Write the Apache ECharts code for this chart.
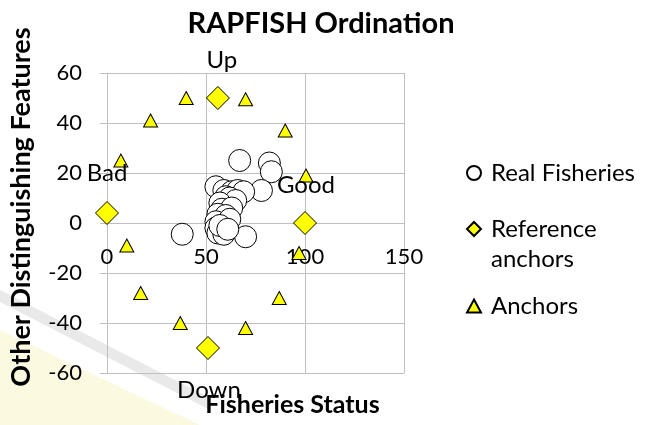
<!DOCTYPE html>
<html>
<head>
<meta charset="utf-8">
<script src="https://cdn.jsdelivr.net/npm/echarts@6/dist/echarts.min.js"></script>
<style>
  html, body { margin: 0; padding: 0; background: #ffffff; }
  #chart { width: 654px; height: 425px; }
</style>
</head>
<body>
<div id="chart"></div>
<script>
// ---- Data ----
const chartTitle = 'RAPFISH Ordination';
const xAxisName = 'Fisheries Status';
const yAxisName = 'Other Distinguishing Features';
const xTicks = [0, 50, 100, 150];
const yTicks = [-60, -40, -20, 0, 20, 40, 60];

const realFisheriesX = [67, 82, 83, 78, 55, 59, 63, 66, 69, 60, 62, 65, 57, 58, 63, 56, 60, 55, 62, 55, 56, 59, 70, 38, 57, 61];
const realFisheriesY = [25, 24, 20.5, 13, 14.5, 13, 12.5, 13, 12.5, 10.5, 10, 9, 8, 5.5, 6, 3.5, 3, 0.5, 1.5, -2, -4, -4.5, -5.5, -4.5, -1, -2.5];

const refAnchorNames = ['Up', 'Bad', 'Good', 'Down'];
const refAnchorsX = [56, 0, 100, 51];
const refAnchorsY = [50, 4, 0, -50];

const anchorsX = [40, 70, 22, 90, 7, 100.5, 10, 97, 17, 87, 37, 70];
const anchorsY = [50, 49.5, 41, 37, 25, 19, -9, -12, -28, -30, -40, -42];

const seriesNames = ['Real Fisheries', 'Reference anchors', 'Anchors'];

// ---- Styles ----
const FONT = 'Lato, "Open Sans", sans-serif';
const GRID_COLOR = '#BFBFBF';
const GRID_H = 300;
const labelOffsets = { Up: [4, -38], Bad: [0, -40], Good: [1, -38], Down: [1, 42] };

const zip = (xs, ys) => xs.map((x, i) => [x, ys[i]]);

const chart = echarts.init(document.getElementById('chart'), null, { renderer: 'canvas' });

const option = {
  animation: false,
  backgroundColor: '#ffffff',
  textStyle: { fontFamily: FONT },
  graphic: [
    { type: 'polygon', z: -10, silent: true,
      shape: { points: [[0, 330], [0, 425], [200, 425]] },
      style: { fill: 'rgba(250, 244, 200, 0.55)' } },
    { type: 'polygon', z: -9, silent: true,
      shape: { points: [[0, 290], [210, 398], [210, 410], [0, 302]] },
      style: { fill: 'rgba(200, 200, 200, 0.4)' } }
  ],
  title: {
    text: chartTitle,
    left: 316, top: 4, textAlign: 'center',
    textStyle: { fontFamily: FONT, fontSize: 29, fontWeight: 'bold', color: '#000' }
  },
  grid: { left: 107, top: 73, width: 297, height: GRID_H, containLabel: false, outerBoundsMode: 'none' },
  xAxis: {
    type: 'value', min: xTicks[0], max: xTicks[xTicks.length - 1], interval: xTicks[1] - xTicks[0],
    // horizontal axis crosses the vertical axis at y = 0 (middle of the symmetric range)
    offset: -GRID_H / 2,
    name: xAxisName, nameLocation: 'middle', nameGap: 169, nameMoveOverlap: false,
    nameTextStyle: { fontFamily: FONT, fontSize: 25, fontWeight: 'bold', color: '#000', padding: [0, 0, 0, 74] },
    axisLine: { onZero: false, lineStyle: { color: GRID_COLOR, width: 1 } },
    axisTick: { show: true, length: 5, lineStyle: { color: GRID_COLOR } },
    axisLabel: { fontFamily: FONT, fontSize: 22, color: '#000', margin: 23 },
    splitLine: { show: true, lineStyle: { color: GRID_COLOR, width: 1 } }
  },
  yAxis: {
    type: 'value', min: yTicks[0], max: yTicks[yTicks.length - 1], interval: yTicks[1] - yTicks[0],
    name: yAxisName, nameLocation: 'middle', nameGap: 72, nameRotate: 90, nameMoveOverlap: false,
    nameTextStyle: { fontFamily: FONT, fontSize: 27, fontWeight: 'bold', color: '#000', padding: [0, 0, 0, 32] },
    axisLine: { show: true, onZero: false, lineStyle: { color: GRID_COLOR, width: 1 } },
    axisTick: { show: true, length: 7, lineStyle: { color: GRID_COLOR } },
    axisLabel: { fontFamily: FONT, fontSize: 22, color: '#000', margin: 25 },
    splitLine: { show: true, lineStyle: { color: GRID_COLOR, width: 1 } }
  },
  legend: [
    { data: [seriesNames[0]], orient: 'vertical', left: 466, top: 161, padding: 0,
      itemWidth: 14, itemHeight: 14,
      textStyle: { fontFamily: FONT, fontSize: 24, color: '#000', lineHeight: 24, padding: [0, 0, 0, 5] } },
    { data: [seriesNames[1]], orient: 'vertical', left: 466, top: 184, padding: 0,
      itemWidth: 14, itemHeight: 14,
      formatter: () => ' \nReference\nanchors',
      textStyle: { fontFamily: FONT, fontSize: 24, color: '#000', lineHeight: 30, padding: [0, 0, 0, 5] } },
    { data: [seriesNames[2]], orient: 'vertical', left: 466, top: 294, padding: 0,
      itemWidth: 14, itemHeight: 13,
      textStyle: { fontFamily: FONT, fontSize: 24, color: '#000', lineHeight: 24, padding: [0, 0, 0, 5] } }
  ],
  series: [
    {
      name: seriesNames[0], type: 'scatter', symbol: 'circle', symbolSize: 22,
      itemStyle: { color: '#ffffff', borderColor: '#000', borderWidth: 1, opacity: 1 },
      data: zip(realFisheriesX, realFisheriesY), z: 2
    },
    {
      name: seriesNames[1], type: 'scatter', symbol: 'diamond', symbolSize: 23,
      itemStyle: { color: '#FFFF00', borderColor: '#000', borderWidth: 1, opacity: 1 },
      data: refAnchorsX.map((x, i) => ({
        value: [x, refAnchorsY[i]], name: refAnchorNames[i],
        label: { show: true, position: 'inside', offset: labelOffsets[refAnchorNames[i]],
          formatter: '{b}', fontFamily: FONT, fontSize: 24, color: '#000' }
      })), z: 3
    },
    {
      name: seriesNames[2], type: 'scatter', symbol: 'triangle', symbolSize: [14, 13],
      itemStyle: { color: '#FFFF00', borderColor: '#000', borderWidth: 1, opacity: 1 },
      data: zip(anchorsX, anchorsY), z: 3
    }
  ]
};

chart.setOption(option);
</script>
</body>
</html>
